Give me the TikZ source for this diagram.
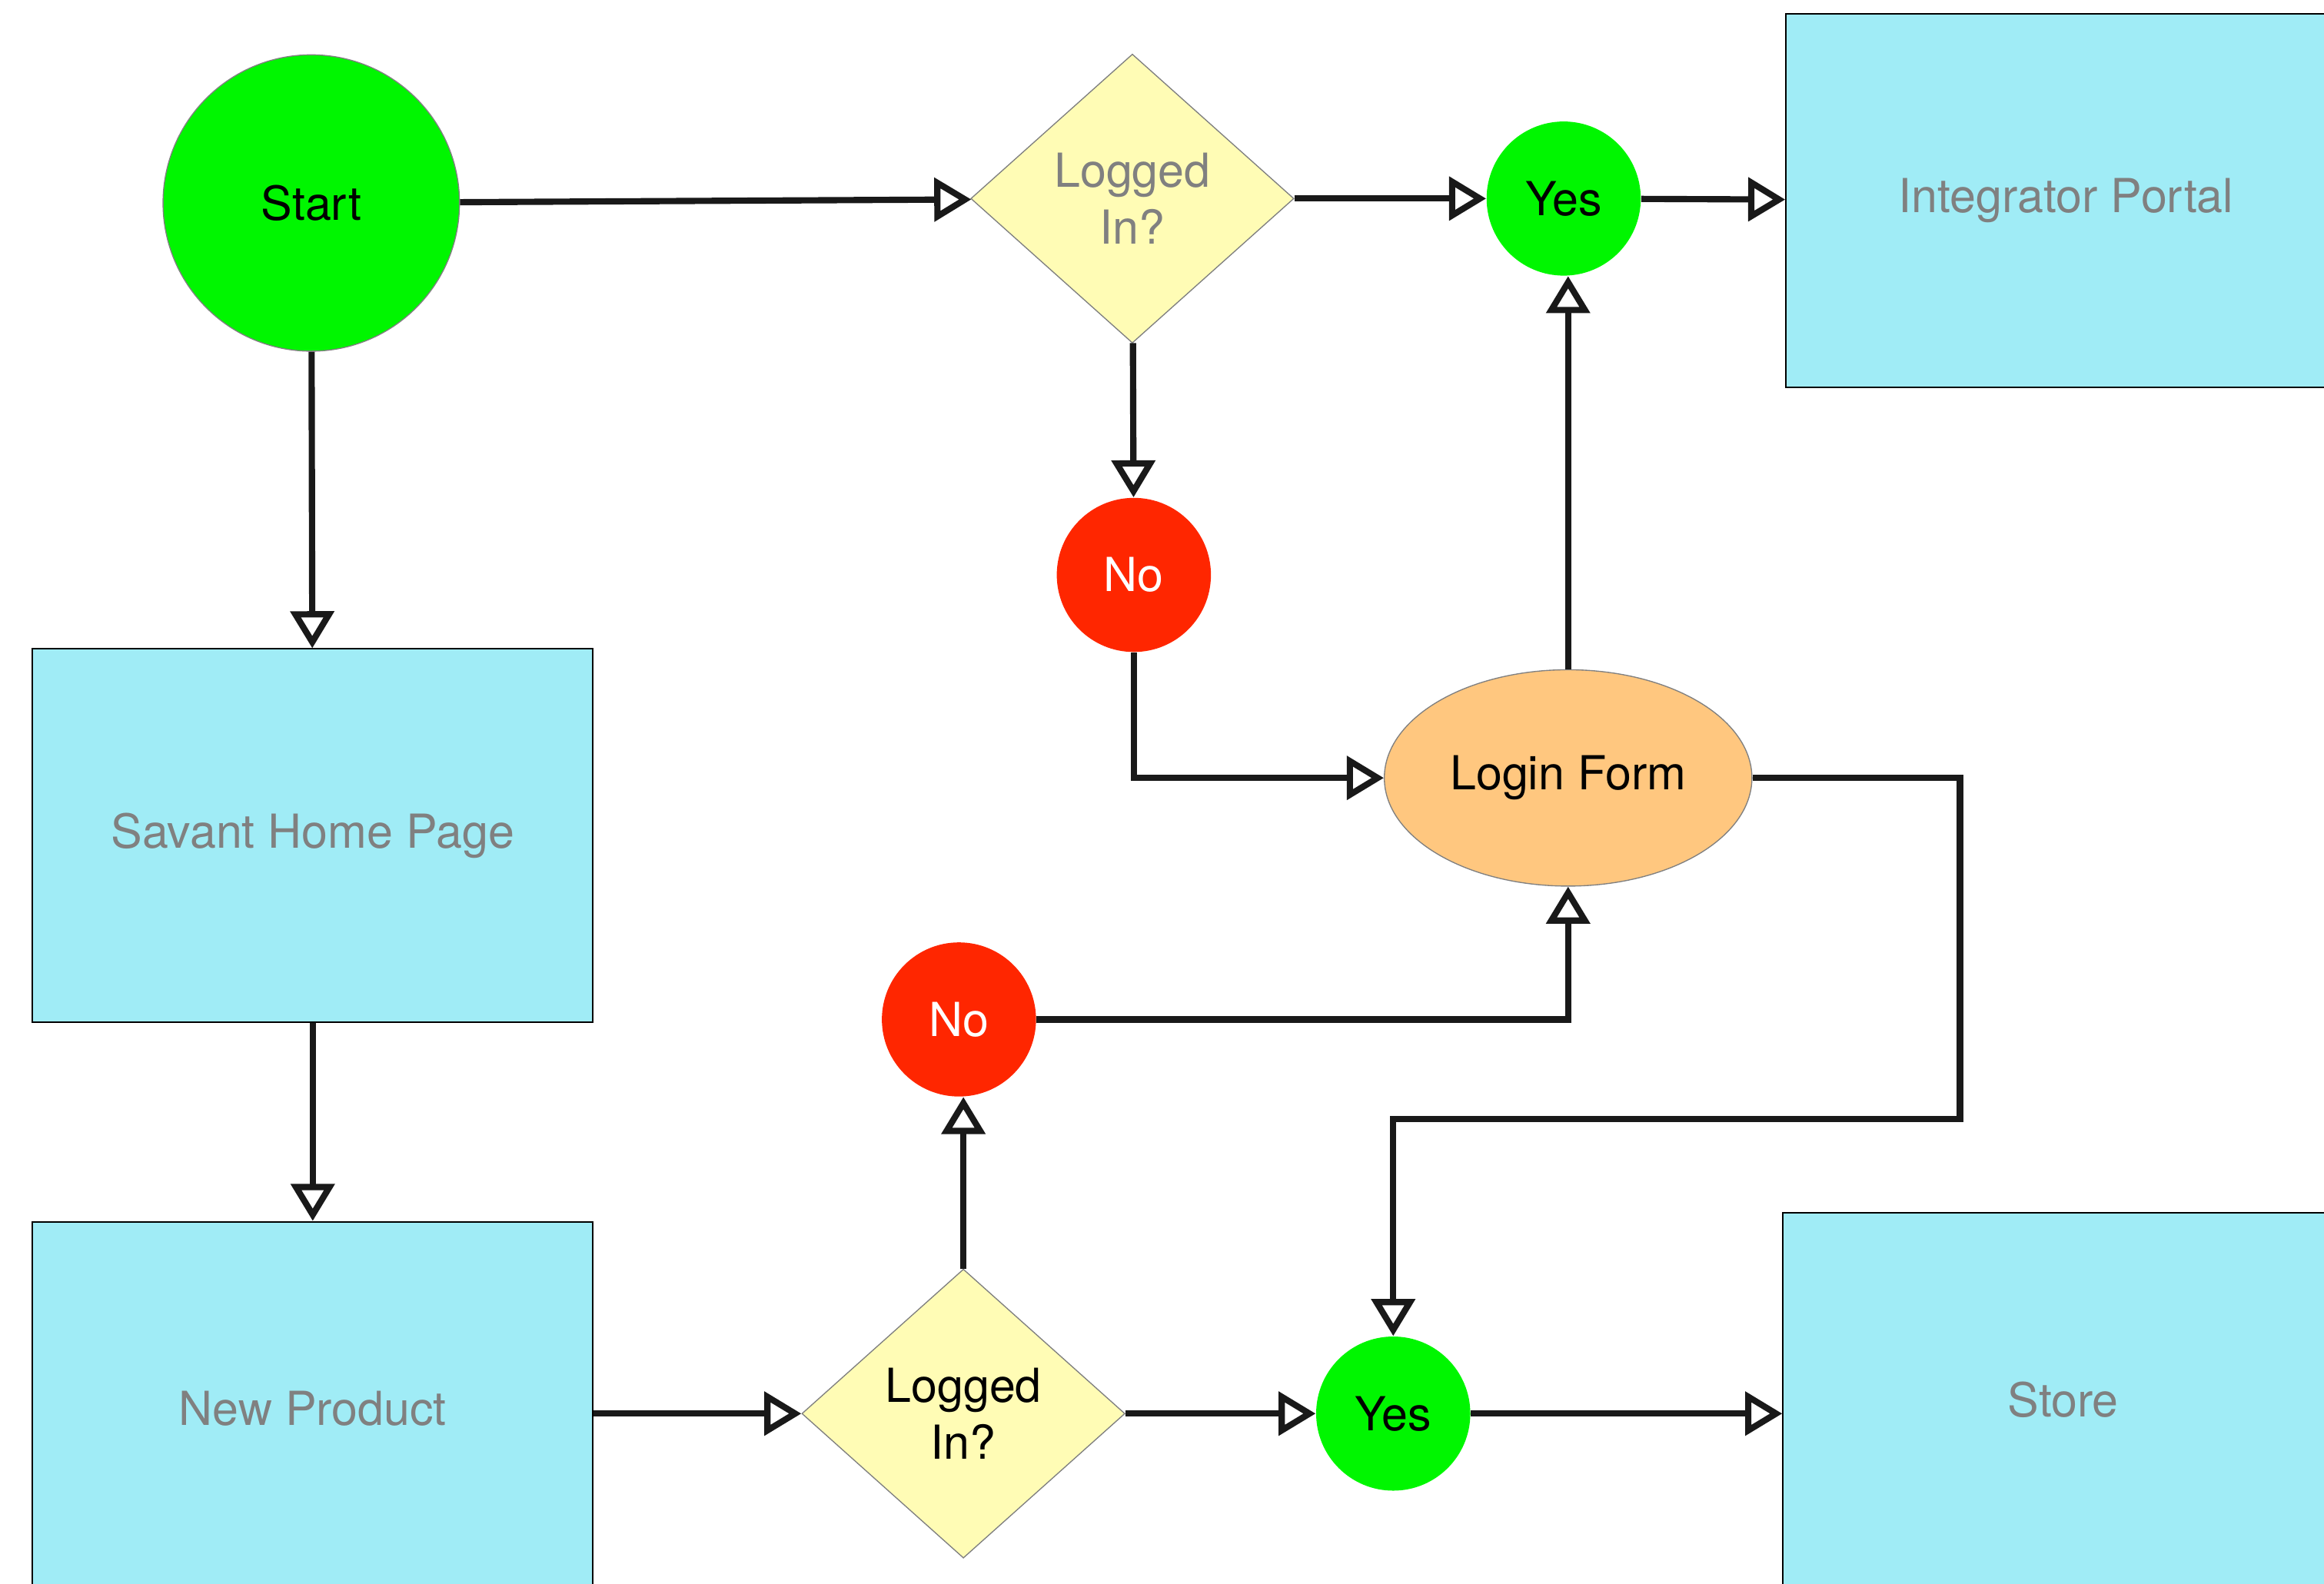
\documentclass[tikz,border=0pt]{standalone}
\usepackage{fontspec}
\setmainfont{TeX Gyre Heros}
\usepackage{tikz}
\usetikzlibrary{arrows.meta,shapes.geometric}
\definecolor{fcgreen}{RGB}{0,246,0}
\definecolor{fcred}{RGB}{255,38,0}
\definecolor{fccyan}{RGB}{160,236,246}
\definecolor{fcyellow}{RGB}{255,252,181}
\definecolor{fcorange}{RGB}{255,199,127}
\definecolor{fcgrey}{RGB}{128,128,128}
\tikzset{
  fcnode/.style = {align=center, inner sep=0pt, text centered,
    font=\fontsize{18}{22}\selectfont},
  fc_start/.style = {fcnode, circle, fill=fcgreen, draw=fcgrey,
    minimum size=40mm},% debut
  fc_yes/.style = {fcnode, circle, fill=fcgreen, minimum size=20.8mm},% oui
  fc_no/.style = {fcnode, circle, fill=fcred, text=white, minimum size=20.8mm},% non
  fc_dec/.style = {fcnode, diamond, fill=fcyellow, draw=fcgrey, line width=0.4pt,
    minimum width=43.6mm, minimum height=39mm},% question
  fc_form/.style = {fcnode, ellipse, fill=fcorange, draw=fcgrey,
    minimum width=49.6mm, minimum height=29.2mm},% formulaire
  fc_page/.style = {fcnode, rectangle, fill=fccyan, draw=black, line width=0.6pt,
    text=fcgrey, minimum width=75.6mm, minimum height=50.4mm},% page
  fc_arr/.style = {draw=black!90, line width=2.4pt,
    -{Triangle[open, length=5mm, width=5.8mm]}}
}

\begin{document}
\begin{tikzpicture}[x=0.2mm, y=-0.2mm]
    \useasboundingbox (0,0) rectangle (1568,1069);
    \clip (0,0) rectangle (1568,1069);
    % nodes
    \node [fc_start] (start) at (210,137) {Start};
    \node [fc_dec, text=fcgrey] (logged1) at (764,134) {Logged\\In?};
    \node [fc_yes] (yes1) at (1055,134) {Yes};
    \node [fc_page] (portal) at (1394,135.5) {Integrator Portal};
    \node [fc_no] (no1) at (765,388) {No};
    \node [fc_form] (login) at (1058,525) {Login Form};
    \node [fc_page] (home) at (211,564) {Savant Home Page};
    \node [fc_page] (product) at (211,950.5) {New Product};
    \node [fc_no] (no2) at (647,688) {No};
    \node [fc_dec] (logged2) at (650,954) {Logged\\In?};
    \node [fc_yes] (yes2) at (940,954) {Yes};
    \node [fc_page] (store) at (1392,944.5) {Store};
    % connectors
    \draw [fc_arr] (start) -- (logged1);
    \draw [fc_arr] (logged1) -- (yes1);
    \draw [fc_arr] (yes1) -- (portal);
    \draw [fc_arr] (logged1) -- (no1);
    \draw [fc_arr] (start) -- (home);
    \draw [fc_arr] (no1.south) |- (login.west);
    \draw [fc_arr] (login.north) -- (yes1.south -| login.north);
    \draw [fc_arr] (login.east) -- ++(140,0) -- ++(0,230) -| (yes2.north);
    \draw [fc_arr] (home) -- (product);
    \draw [fc_arr] (product.east |- logged2) -- (logged2.west);
    \draw [fc_arr] (logged2.north) -- (no2.south -| logged2.north);
    \draw [fc_arr] (no2.east) -| (login.south);
    \draw [fc_arr] (logged2) -- (yes2);
    \draw [fc_arr] (yes2) -- (store.west |- yes2);
\end{tikzpicture}
\end{document}
